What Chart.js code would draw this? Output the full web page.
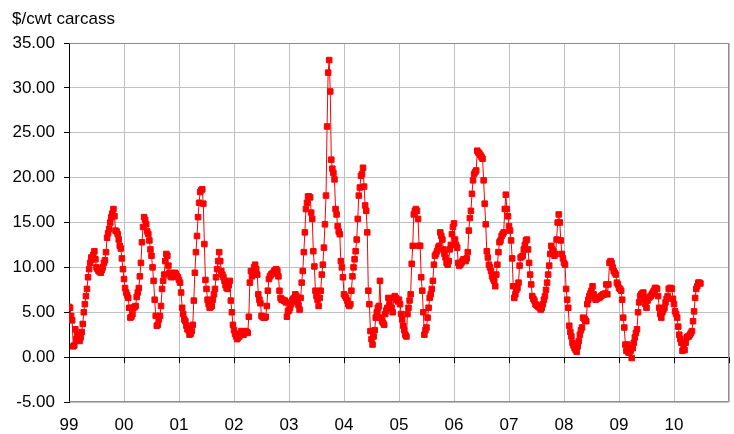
<!DOCTYPE html>
<html>
<head>
<meta charset="utf-8">
<script src="https://cdn.jsdelivr.net/npm/chart.js@4.4.1/dist/chart.umd.min.js"></script>
<style>
html,body{margin:0;padding:0;background:#fff;}
canvas{display:block;}
</style>
</head>
<body>
<canvas id="c" width="734" height="434"></canvas>
<script>
// Weekly values, $/cwt carcass, one array per calendar year
const years = [1999,2000,2001,2002,2003,2004,2005,2006,2007,2008,2009,2010];
const y1999 = [5.6,5.5,4.6,4.1,1.2,1.3,3.1,2.0,2.5,2.4,1.8,2.2,2.8,3.7,5.0,5.9,6.8,7.6,8.9,9.8,10.5,11.1,10.9,11.4,11.8,10.9,10.0,9.8,9.6,9.5,9.4,9.7,10.0,10.5,10.8,11.7,13.3,13.8,14.3,15.0,15.6,16.0,16.5,15.7,14.1,14.0,13.7,13.1,12.4,12.1,11.0,9.8];
const y2000 = [8.7,7.7,7.2,6.9,6.6,5.5,4.4,4.5,4.8,5.5,5.6,5.7,6.7,7.2,7.7,9.0,10.5,12.8,14.5,15.6,15.3,14.8,14.0,13.7,13.0,12.0,11.3,10.0,8.5,6.4,4.6,3.5,3.6,4.2,4.6,5.7,7.6,8.5,9.2,10.7,11.5,11.3,10.2,9.4,9.0,8.9,9.0,9.2,9.4,9.3,9.0,8.9];
const y2001 = [8.6,8.3,7.2,5.5,4.8,4.2,4.0,3.5,3.1,3.0,2.5,2.6,2.9,3.6,6.3,9.4,11.7,13.5,15.6,17.2,18.4,18.6,18.7,17.1,12.6,8.6,7.6,6.4,5.9,5.5,5.6,5.7,6.4,7.0,7.6,8.9,9.8,10.7,11.7,10.7,9.6,9.2,8.9,8.5,8.0,7.7,7.6,8.0,8.5,6.3,5.0,3.6];
const y2002 = [3.0,2.6,2.3,2.0,2.2,2.3,2.6,2.9,2.7,2.5,2.7,2.9,2.8,2.7,4.5,8.3,9.6,9.0,9.4,10.0,10.3,9.8,9.2,7.0,6.4,6.0,4.6,4.5,4.4,4.4,4.5,5.7,7.4,8.7,9.0,9.2,9.3,9.4,9.6,9.7,9.8,9.6,9.0,7.4,6.6,6.4,6.4,6.3,6.3,6.1,4.5,5.1];
const y2003 = [5.2,5.5,5.9,6.3,6.5,6.6,7.0,6.8,6.1,5.8,5.3,6.6,8.3,9.6,11.7,13.9,16.5,17.2,17.9,17.9,17.8,16.1,15.4,11.8,10.1,7.4,6.8,6.4,5.7,6.6,7.4,9.2,10.3,12.2,14.8,18.0,25.7,31.7,33.1,29.6,22.0,21.0,20.5,19.8,16.5,15.9,14.6,14.0,13.7,10.7,10.0,8.9];
const y2004 = [7.0,6.8,6.6,6.3,5.9,5.7,5.9,7.4,9.0,10.0,10.9,11.8,13.1,15.4,18.0,18.9,20.2,20.4,21.1,19.0,16.9,16.3,13.9,7.4,5.9,2.9,2.0,1.4,2.3,3.0,4.4,5.0,5.5,5.7,8.5,4.4,4.0,3.8,3.6,4.8,5.2,5.5,6.6,5.9,5.5,5.5,5.0,6.6,6.8,6.6,6.4,6.2];
const y2005 = [6.4,5.9,4.8,4.2,3.5,3.0,2.5,2.3,4.8,5.5,6.3,7.0,10.4,12.4,15.9,16.3,16.5,16.3,15.4,12.4,12.4,8.9,7.4,5.0,2.5,3.0,3.3,4.4,5.5,6.6,7.0,7.6,8.5,10.3,11.3,11.5,11.8,12.2,12.4,13.9,13.5,13.1,12.0,11.5,11.1,10.5,10.3,10.7,12.0,12.5,13.7,14.5];
const y2006 = [14.9,13.1,12.5,12.2,10.5,10.2,10.3,10.5,10.7,10.9,10.8,10.7,11.0,11.7,14.1,15.5,16.3,18.2,19.7,20.4,20.6,20.8,23.0,22.8,22.7,22.5,22.3,22.1,19.7,17.1,14.8,11.8,11.1,10.3,10.0,9.6,9.0,8.7,8.5,7.9,9.2,10.3,11.7,12.8,13.0,13.5,13.7,13.9,16.5,18.1,16.5,15.7];
const y2007 = [14.6,14.1,13.0,11.0,7.9,6.6,7.0,7.5,7.7,8.3,10.2,11.1,11.2,11.3,12.0,12.5,13.0,13.1,12.0,10.5,9.2,8.1,6.8,6.5,6.3,5.9,5.8,5.7,5.6,5.5,5.3,5.5,5.9,6.4,6.8,7.5,8.3,9.2,10.2,11.5,12.4,12.0,11.8,11.3,11.5,13.1,15.0,15.9,15.0,13.0,11.5,11.0];
const y2008 = [10.5,10.3,7.6,6.4,5.5,3.5,2.8,2.3,1.6,1.3,1.0,0.8,0.6,1.2,1.8,2.5,3.0,3.3,4.4,4.3,4.2,4.0,5.9,6.4,6.8,7.1,7.4,7.9,7.0,6.6,6.4,6.5,6.6,6.6,6.7,6.8,6.9,7.0,7.0,7.1,8.1,7.0,8.1,10.5,10.7,10.5,10.0,9.6,9.4,9.2,8.3,8.1];
const y2009 = [7.7,7.6,7.4,6.4,4.4,3.3,1.4,0.7,1.4,0.5,0.9,0.7,-0.1,1.0,1.6,2.2,2.7,3.1,5.0,6.1,6.8,7.0,7.1,7.2,6.5,5.9,5.5,6.3,6.6,6.7,6.8,7.0,7.2,7.4,7.7,7.7,7.6,6.8,5.5,4.8,4.4,5.0,5.3,5.5,6.1,6.5,6.8,7.6,7.7,7.7,7.6,6.5];
const y2010 = [5.9,5.1,4.8,4.4,3.4,2.5,2.0,1.6,0.7,0.9,0.8,1.6,2.2,2.3,2.3,2.5,2.7,2.9,4.0,5.1,6.6,7.6,7.9,8.3,8.3,8.2];
const tickLabels = ['99','00','01','02','03','04','05','06','07','08','09','10'];
const yLabel = '$/cwt carcass';

const series = [y1999,y2000,y2001,y2002,y2003,y2004,y2005,y2006,y2007,y2008,y2009,y2010];
const points = [];
series.forEach((arr, i) => arr.forEach((v, w) => points.push({x: years[i] + w / 52, y: v})));

const FONT = "'Liberation Sans', Arial, sans-serif";

const frameAndTicks = {
  id: 'frameAndTicks',
  beforeDatasetsDraw(chart) {
    const {ctx, chartArea: a, scales: {x, y}} = chart;
    ctx.save();
    // plot-area frame (top, right, bottom)
    ctx.strokeStyle = '#8c8c8c';
    ctx.lineWidth = 1;
    ctx.beginPath();
    const l = Math.round(a.left) + 0.5, r = Math.round(a.right) - 0.5;
    const t = Math.round(a.top) + 0.5, b = Math.round(a.bottom) - 0.5;
    ctx.moveTo(l, t); ctx.lineTo(r, t); ctx.lineTo(r, b); ctx.lineTo(l, b);
    ctx.stroke();
    // year tick marks hanging from the zero line
    const y0 = y.getPixelForValue(0);
    ctx.strokeStyle = '#000';
    ctx.beginPath();
    for (let yr = years[0]; yr <= years[years.length - 1] + 1; yr++) {
      const px = Math.round(x.getPixelForValue(yr)) + 0.5;
      ctx.moveTo(px, y0);
      ctx.lineTo(px, y0 + 6);
    }
    ctx.stroke();
    ctx.restore();
  }
};

new Chart(document.getElementById('c'), {
  type: 'line',
  data: {
    datasets: [{
      data: points,
      borderColor: '#ff0000',
      backgroundColor: '#ff0000',
      borderWidth: 1,
      pointStyle: 'rect',
      pointRadius: 3.9,
      pointBorderWidth: 1,
      pointBackgroundColor: '#ff0000',
      pointBorderColor: '#ff0000',
      tension: 0,
      fill: false
    }]
  },
  options: {
    responsive: false,
    animation: false,
    devicePixelRatio: 1,
    layout: {padding: {left: 12, right: 5, top: 9, bottom: 0}},
    plugins: {
      legend: {display: false},
      tooltip: {enabled: false},
      title: {
        display: true,
        text: yLabel,
        align: 'start',
        color: '#000',
        font: {family: FONT, size: 17, weight: 'normal'},
        padding: {top: 0, bottom: 13.6}
      }
    },
    scales: {
      x: {
        type: 'linear',
        min: 1999,
        max: 2011,
        afterFit(s) { s.height = 32; s.paddingLeft = 0; s.paddingRight = 0; },
        ticks: {
          stepSize: 1,
          autoSkip: false,
          maxRotation: 0,
          color: '#000',
          font: {family: FONT, size: 17},
          padding: 13,
          callback: (v) => {
            const i = Math.round(v) - years[0];
            return (i >= 0 && i < tickLabels.length) ? tickLabels[i] : '';
          }
        },
        grid: {color: '#c0c0c0', lineWidth: 1, drawTicks: false},
        border: {display: false}
      },
      y: {
        min: -5,
        max: 35,
        afterFit(s) { s.width = 57; },
        ticks: {
          stepSize: 5,
          color: '#000',
          font: {family: FONT, size: 17},
          padding: 9,
          callback: (v) => Number(v).toFixed(2)
        },
        grid: {
          color: (c) => (c.tick && c.tick.value === 0) ? '#000' : '#c0c0c0',
          tickColor: '#000',
          tickLength: 5,
          lineWidth: 1
        },
        border: {display: true, color: '#000', width: 1}
      }
    }
  },
  plugins: [frameAndTicks]
});
</script>
</body>
</html>
